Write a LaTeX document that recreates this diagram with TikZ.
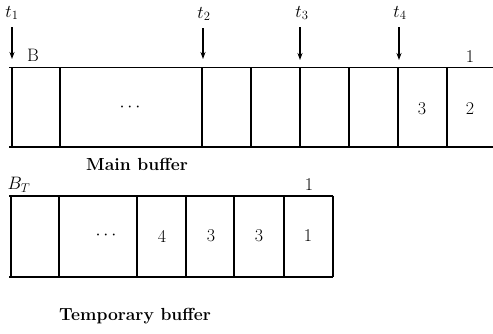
\documentclass[tikz,border=0pt]{standalone}
\usepackage{fix-cm}
\usetikzlibrary{arrows.meta}
\begin{document}
\begin{tikzpicture}[x=1pt,y=-1pt,
  hline/.style={line width=1.6pt},
  vline/.style={line width=1.1pt},
  txt/.style={inner sep=0pt,font=\fontsize{18}{21}\selectfont},
  lbl/.style={inner sep=0pt,font=\fontsize{17.5}{20}\selectfont\bfseries},
  pointer/.style={line width=1.1pt,-{Stealth[length=7pt,width=5pt]}}]
\useasboundingbox (0,0) rectangle (493,333);
% main buffer
\draw[hline] (9,67.5) -- (493,67.5);
\draw[hline] (9,147) -- (493,147);
\foreach \x in {12,60,202,251,300,349,398,447}
  \draw[vline] (\x,67.5) -- (\x,147);
% pointers
\node[txt] (t1) at (12,13) {$t_1$};
\node[txt] (t2) at (204,14) {$t_2$};
\node[txt] (t3) at (302,13) {$t_3$};
\node[txt] (t4) at (400,13) {$t_4$};
\coordinate (p1) at (12,59);
\coordinate (p2) at (203,59);
\coordinate (p3) at (300,60);
\coordinate (p4) at (399,60);
\draw[pointer] (12,27) -- (p1);
\draw[pointer] (203,28) -- (p2);
\draw[pointer] (300,27) -- (p3);
\draw[pointer] (399,27) -- (p4);
\node[txt] (B) at (33,55) {B};
\node[txt] (one) at (470,57) {1};
\node[txt] (mdots) at (130,107) {$\cdots$};
\node[txt] (m3) at (422,109) {3};
\node[txt] (m2) at (470,109) {2};
\node[lbl] (mainlbl) at (137,164) {Main buffer};
% temporary buffer
\draw[hline] (9,195.7) -- (333,195.7);
\draw[hline] (9,276.7) -- (333,276.7);
\foreach \x in {11,59,137,186,234,284,333}
  \draw[vline] (\x,195.7) -- (\x,276.7);
\node[txt] (BT) at (19,185) {$B_T$};
\node[txt] (tone) at (309,185) {1};
\node[txt] (tdots) at (106,235) {$\cdots$};
\node[txt] (c4) at (162,236) {4};
\node[txt] (c3a) at (211,236) {3};
\node[txt] (c3b) at (259,236) {3};
\node[txt] (c1) at (308,236) {1};
\node[lbl] (templbl) at (135,316) {Temporary buffer};
\end{tikzpicture}
\end{document}
